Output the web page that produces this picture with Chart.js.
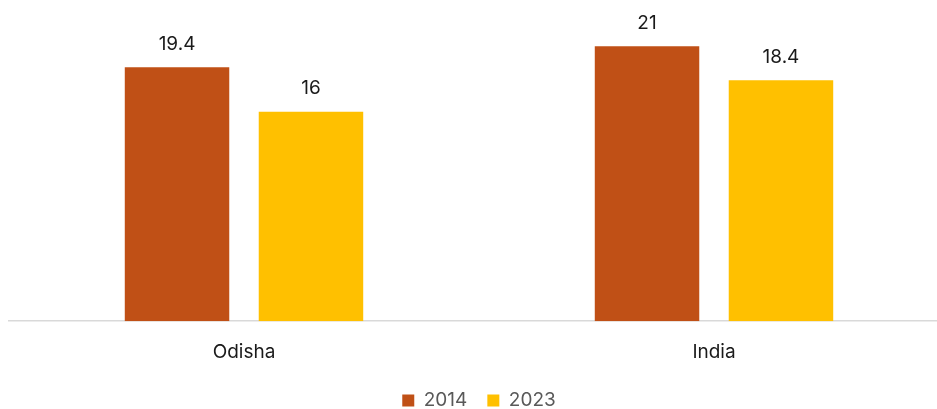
<!DOCTYPE html>
<html>
<head>
<meta charset="utf-8">
<script src="https://cdn.jsdelivr.net/npm/chart.js@4.4.1/dist/chart.umd.min.js"></script>
<style>
  html, body { margin: 0; padding: 0; background: #fff; overflow: hidden; }
  #wrap { position: relative; width: 949px; height: 420px; }
</style>
</head>
<body>
<div id="wrap"><canvas id="barChart"></canvas></div>
<script>
const categories = ['Odisha', 'India'];
const seriesNames = ['2014', '2023'];
const values2014 = [19.4, 21];
const values2023 = [16, 18.4];

// draws the value above each bar
const valueLabels = {
    id: 'valueLabels',
    afterDatasetsDraw(chart) {
        const ctx = chart.ctx;
        ctx.save();
        ctx.font = '19px Inter';
        ctx.fillStyle = '#1a1a1a';
        ctx.textAlign = 'center';
        ctx.textBaseline = 'middle';
        chart.data.datasets.forEach((ds, i) => {
            chart.getDatasetMeta(i).data.forEach((bar, j) => {
                ctx.fillText(String(ds.data[j]), bar.x, bar.y - 23);
            });
        });
        ctx.restore();
    }
};

const ctx = document.getElementById('barChart');

new Chart(ctx, {
    type: 'bar',
    data: {
        labels: categories,
        datasets: [{
            label: seriesNames[0],
            data: values2014,
            backgroundColor: '#C05016',
            categoryPercentage: 0.57,
            barPercentage: 0.78
        }, {
            label: seriesNames[1],
            data: values2023,
            backgroundColor: '#FFC000',
            categoryPercentage: 0.57,
            barPercentage: 0.78
        }]
    },
    options: {
        responsive: true,
        maintainAspectRatio: false,
        animation: false,
        layout: {
            padding: { top: 7, left: 9, right: 0, bottom: 0 }
        },
        plugins: {
            legend: {
                position: 'bottom',
                labels: {
                    color: '#595959',
                    font: { family: 'Inter', size: 19 },
                    boxWidth: 12,
                    boxHeight: 12,
                    padding: 20
                }
            },
            tooltip: { enabled: false }
        },
        scales: {
            y: {
                display: false,
                min: 0,
                max: 24
            },
            x: {
                grid: { display: false, drawTicks: false },
                border: { display: true, color: '#d9d9d9', width: 1.5 },
                ticks: {
                    color: '#1a1a1a',
                    font: { family: 'Inter', size: 19 },
                    padding: 20
                },
                afterFit(scale) {
                    scale.height -= 13;
                }
            }
        }
    },
    plugins: [valueLabels]
});
</script>
</body>
</html>
